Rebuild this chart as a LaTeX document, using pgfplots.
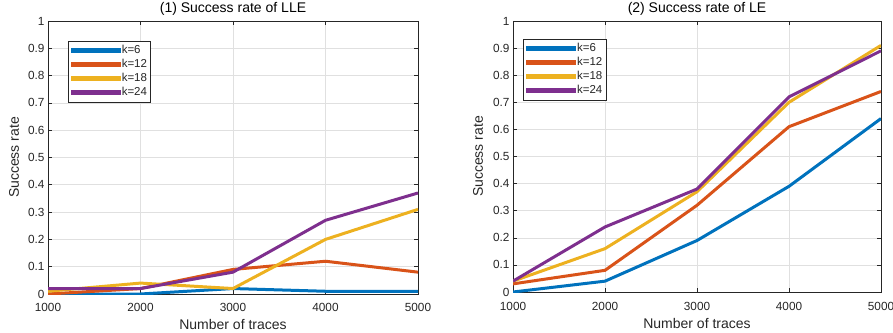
\documentclass[border=0pt]{standalone}
\usepackage{pgfplots}
\pgfplotsset{compat=1.18}
\usepackage{fontspec}
\setmainfont{Liberation Sans}
\definecolor{mb}{rgb}{0,0.447,0.741}
\definecolor{mo}{rgb}{0.85,0.325,0.098}
\definecolor{my}{rgb}{0.929,0.694,0.125}
\definecolor{mp}{rgb}{0.494,0.184,0.556}
\definecolor{mg}{rgb}{0.15,0.15,0.15}
\pgfplotsset{
  mystyle/.style={
    scale only axis,
    xmin=1000, xmax=5000, ymin=0, ymax=1,
    xtick={1000,2000,3000,4000,5000},
    ytick={0,0.1,0.2,0.3,0.4,0.5,0.6,0.7,0.8,0.9,1},
    yticklabels={0,0.1,0.2,0.3,0.4,0.5,0.6,0.7,0.8,0.9,1},
    xticklabels={1000,2000,3000,4000,5000},
    tick align=inside,
    major tick length=4pt,
    xtick pos=both, ytick pos=both,
    grid=major,
    major grid style={draw=black!12, line width=0.6pt},
    axis line style={mg, line width=0.6pt},
    tick style={mg, line width=0.6pt},
    ticklabel style={font=\fontsize{11.8}{13}\selectfont, text=mg},
    label style={font=\fontsize{14}{16}\selectfont, text=mg},
    title style={font=\fontsize{14}{16}\selectfont, text=black, at={(axis description cs:0.5,1)}, anchor=center, yshift=6pt},
    xlabel={Number of traces},
    ylabel={Success rate},
    legend style={font=\fontsize{11.5}{13}\selectfont, draw=mg, line width=0.6pt,
      inner sep=2.5pt, row sep=0pt,
      nodes={inner sep=1pt, text height=9pt, text depth=3pt},
      cells={anchor=west, text=mg}},
    legend image code/.code={\path (0pt,-1pt) rectangle (47pt,1pt); \draw[#1, line width=3pt] (3.5pt,0pt) -- (46.5pt,0pt);},
    every axis plot/.append style={line width=3pt},
  }
}
\begin{document}
\begin{tikzpicture}
\begin{axis}[mystyle, at={(48pt,38pt)}, anchor=south west, width=370pt, height=273pt,
  title={(1) Success rate of LLE},
  xticklabel style={anchor=center, yshift=-13pt},
  xlabel style={at={(axis description cs:0.5,0)}, anchor=center, yshift=-30pt},
  ylabel style={at={(axis description cs:0,0.5)}, anchor=center, yshift=34pt},
  legend style={at={(0.054,0.927)}, anchor=north west}]
\addplot[mb] coordinates {(1000,0) (2000,0) (3000,0.02) (4000,0.01) (5000,0.01)};
\addplot[mo] coordinates {(1000,0) (2000,0.02) (3000,0.09) (4000,0.12) (5000,0.08)};
\addplot[my] coordinates {(1000,0.01) (2000,0.04) (3000,0.02) (4000,0.20) (5000,0.31)};
\addplot[mp] coordinates {(1000,0.02) (2000,0.02) (3000,0.08) (4000,0.27) (5000,0.37)};
\legend{k=6,k=12,k=18,k=24}
\end{axis}
\begin{axis}[mystyle, at={(513pt,40pt)}, anchor=south west, width=368pt, height=271pt,
  title={(2) Success rate of LE},
  xticklabel style={anchor=center, yshift=-14pt},
  xlabel style={at={(axis description cs:0.5,0)}, anchor=center, yshift=-31pt},
  ylabel style={at={(axis description cs:0,0.5)}, anchor=center, yshift=35pt},
  legend style={at={(0.028,0.934)}, anchor=north west}]
\addplot[mb] coordinates {(1000,0) (2000,0.04) (3000,0.19) (4000,0.39) (5000,0.64)};
\addplot[mo] coordinates {(1000,0.03) (2000,0.08) (3000,0.32) (4000,0.61) (5000,0.74)};
\addplot[my] coordinates {(1000,0.04) (2000,0.16) (3000,0.37) (4000,0.70) (5000,0.91)};
\addplot[mp] coordinates {(1000,0.04) (2000,0.24) (3000,0.38) (4000,0.72) (5000,0.89)};
\legend{k=6,k=12,k=18,k=24}
\end{axis}
\pgfresetboundingbox
\path[use as bounding box] (0pt,0pt) rectangle (893pt,332pt);
\end{tikzpicture}
\end{document}
